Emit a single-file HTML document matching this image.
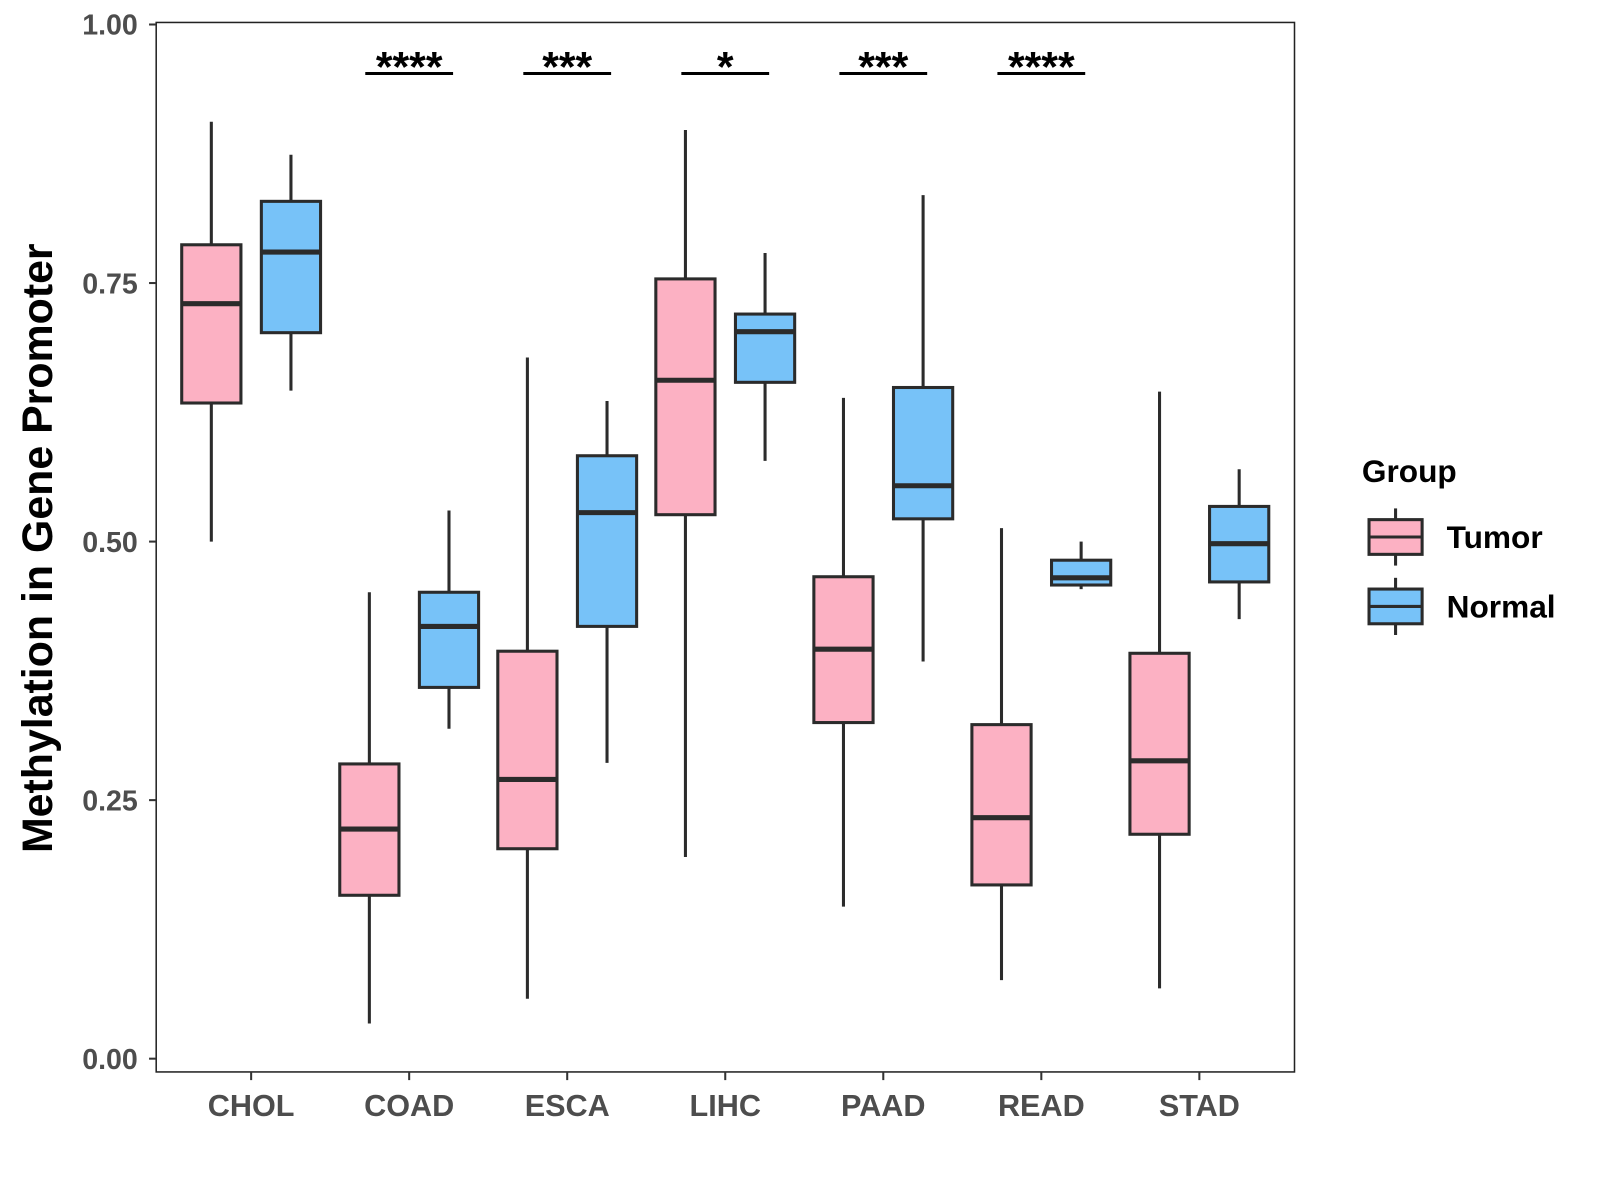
<!DOCTYPE html>
<html><head><meta charset="utf-8"><style>
body{margin:0;background:#fff}
svg{display:block;font-family:"Liberation Sans",Arial,sans-serif}
</style></head><body>
<svg width="1600" height="1200"><g id="chart" transform="scale(1.0209)"></g></svg>
<script>
const categories=["CHOL","COAD","ESCA","LIHC","PAAD","READ","STAD"];
// [whiskerLow, q1, median, q3, whiskerHigh]
const tumorStats=[[0.500,0.634,0.730,0.787,0.906],[0.034,0.158,0.222,0.285,0.451],[0.058,0.203,0.270,0.394,0.678],[0.195,0.526,0.656,0.754,0.898],[0.147,0.325,0.396,0.466,0.639],[0.076,0.168,0.233,0.323,0.513],[0.068,0.217,0.288,0.392,0.645]];
const normalStats=[[0.646,0.702,0.780,0.829,0.874],[0.319,0.359,0.418,0.451,0.530],[0.286,0.418,0.528,0.583,0.636],[0.578,0.654,0.703,0.720,0.779],[0.384,0.522,0.554,0.649,0.835],[0.454,0.458,0.465,0.482,0.500],[0.425,0.461,0.498,0.534,0.570]];
const signifLabels=["","****","***","*","***","****",""];
const yTicks=[0,0.25,0.5,0.75,1.0];
const yTickLabels=["0.00","0.25","0.50","0.75","1.00"];

const NS="http://www.w3.org/2000/svg";
const svg=document.getElementById('chart');
const L=153,R=1268,T=22,B=1050;
const y=v=>1037-v*1013;
const x=i=>246+i*154.8;
function mk(tag,attrs,parent){const e=document.createElementNS(NS,tag);for(const k in attrs)e.setAttribute(k,attrs[k]);(parent||svg).appendChild(e);return e;}

const panel=mk('rect',{x:L,y:T,width:R-L,height:B-T,fill:'none',stroke:'#222','stroke-width':1.5});



yTicks.forEach((v,i)=>{
  mk('line',{x1:L-7,x2:L,y1:y(v),y2:y(v),stroke:'#333','stroke-width':2});
  const t=mk('text',{x:L-18,y:y(v)+10,'text-anchor':'end','font-size':28,'font-weight':'bold',fill:'#4d4d4d'});
  t.textContent=yTickLabels[i];
  
  
});
categories.forEach((c,i)=>{
  mk('line',{x1:x(i),x2:x(i),y1:B,y2:B+8,stroke:'#333','stroke-width':2});
  const t=mk('text',{x:x(i),y:B+43,'text-anchor':'middle','font-size':30,'font-weight':'bold',fill:'#4d4d4d'});
  t.textContent=c;
  
  
});
const yt=mk('text',{x:0,y:0,transform:'translate(51,537) rotate(-90)','text-anchor':'middle','font-size':42,'font-weight':'bold',fill:'#000'});
yt.textContent='Methylation in Gene Promoter';



function box(cx,s,fill,name){
  const g=mk('g',{});
  
  
  mk('line',{x1:cx,x2:cx,y1:y(s[0]),y2:y(s[4]),stroke:'#2b2b2b','stroke-width':3},g);
  mk('rect',{x:cx-29,y:y(s[3]),width:58,height:y(s[1])-y(s[3]),fill:fill,stroke:'#2b2b2b','stroke-width':3},g);
  mk('line',{x1:cx-29,x2:cx+29,y1:y(s[2]),y2:y(s[2]),stroke:'#2b2b2b','stroke-width':5},g);
}
categories.forEach((c,i)=>{
  box(x(i)-39,tumorStats[i],'#fcb1c3','box-tumor-'+c.toLowerCase());
  box(x(i)+39,normalStats[i],'#77c2f8','box-normal-'+c.toLowerCase());
  if(signifLabels[i]){
    const g=mk('g',{});
    
    
    mk('line',{x1:x(i)-43,x2:x(i)+43,y1:72,y2:72,stroke:'#000','stroke-width':3},g);
    const t=mk('text',{x:x(i),y:80,'text-anchor':'middle','font-size':42,'font-weight':'bold',fill:'#000'},g);
    t.textContent=signifLabels[i];
  }
});
// legend
const lg=mk('g',{});


const lt=mk('text',{x:1334,y:472,'font-size':31,'font-weight':'bold',fill:'#000'},lg);
lt.textContent='Group';
[["Tumor",'#fcb1c3',526],["Normal",'#77c2f8',594]].forEach(([n,f,cy])=>{
  const e=mk('g',{},lg);
  
  
  mk('line',{x1:1367,x2:1367,y1:cy-28,y2:cy+28,stroke:'#2b2b2b','stroke-width':3},e);
  mk('rect',{x:1341,y:cy-17,width:52,height:34,fill:f,stroke:'#2b2b2b','stroke-width':3},e);
  mk('line',{x1:1341,x2:1393,y1:cy,y2:cy,stroke:'#2b2b2b','stroke-width':3},e);
  const t=mk('text',{x:1417,y:cy+11,'font-size':31,'font-weight':'bold',fill:'#000'},e);
  t.textContent=n;
});
</script>
</body></html>
